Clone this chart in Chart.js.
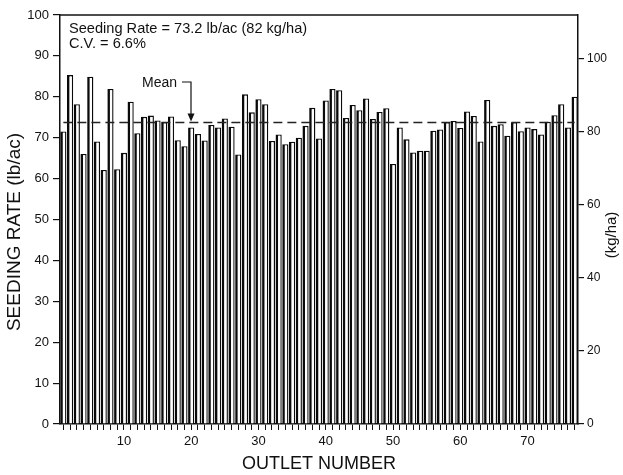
<!DOCTYPE html>
<html lang="en">
<head>
<meta charset="UTF-8">
<title>Seeding rate by outlet</title>
<script src="https://cdn.jsdelivr.net/npm/chart.js"></script>
<style>
  html, body { margin: 0; padding: 0; background: #fff; }
  #wrap { width: 623px; height: 475px; }
</style>
</head>
<body>
<div id="wrap"><canvas id="myChart" width="623" height="475"></canvas></div>
<script>
  // outlet numbers along the bottom
  const outlets = [
    1, 2, 3, 4, 5, 6, 7, 8, 9, 10, 11, 12, 13, 14, 15, 16, 17, 18, 19, 20,
    21, 22, 23, 24, 25, 26, 27, 28, 29, 30, 31, 32, 33, 34, 35, 36, 37, 38, 39, 40,
    41, 42, 43, 44, 45, 46, 47, 48, 49, 50, 51, 52, 53, 54, 55, 56, 57, 58, 59, 60,
    61, 62, 63, 64, 65, 66, 67, 68, 69, 70, 71, 72, 73, 74, 75, 76, 77
  ];

  // seeding rate per outlet, lb/ac
  const seedingRate = [
    71.5, 85.3, 78.2, 66.0, 84.9, 69.1, 62.1, 81.9, 62.3, 66.3,
    78.8, 71.1, 75.1, 75.4, 74.2, 73.8, 75.2, 69.4, 67.9, 72.5,
    70.9, 69.3, 73.1, 72.5, 74.7, 72.7, 65.9, 80.6, 76.2, 79.4,
    78.2, 69.2, 70.8, 68.4, 69.0, 70.0, 72.9, 77.3, 69.8, 79.1,
    81.9, 81.6, 74.8, 78.0, 76.7, 79.6, 74.6, 76.3, 77.2, 63.6,
    72.5, 69.6, 66.4, 66.8, 66.8, 71.7, 72.0, 73.8, 74.1, 72.4,
    76.4, 75.3, 69.1, 79.2, 72.9, 73.3, 70.5, 73.8, 71.6, 72.5,
    72.1, 70.8, 73.9, 75.5, 78.2, 72.5, 80.0
  ];

  const meanRate = 73.7;          // dashed "Mean" line as drawn
  const kgPerLb = 1.12085;        // lb/ac -> kg/ha
  const lbTicks = [0, 10, 20, 30, 40, 50, 60, 70, 80, 90, 100];
  const kgTicks = [0, 20, 40, 60, 80, 100];
  const xLabels = [10, 20, 30, 40, 50, 60, 70];
  const noteLines = ['Seeding Rate = 73.2 lb/ac (82 kg/ha)', 'C.V. = 6.6%'];

  const FONT = "'Liberation Sans', Arial, Helvetica, sans-serif";
  Chart.defaults.font.family = FONT;
  Chart.defaults.color = '#111';

  function vertText(ctx, text, x, y, size) {
    ctx.save();
    ctx.translate(x, y);
    ctx.rotate(-Math.PI / 2);
    ctx.textAlign = 'center';
    ctx.textBaseline = 'middle';
    ctx.font = size + 'px ' + FONT;
    ctx.fillText(text, 0, 0);
    ctx.restore();
  }

  // frame top, notes, mean arrow and the axis titles
  const extras = {
    id: 'extras',
    afterDraw(chart) {
      const ctx = chart.ctx;
      const a = chart.chartArea;
      const y = chart.scales.y;
      ctx.save();
      ctx.strokeStyle = '#111';
      ctx.lineWidth = 1.5;
      ctx.beginPath();
      ctx.moveTo(a.left, a.top);
      ctx.lineTo(a.right, a.top);
      ctx.stroke();

      ctx.fillStyle = '#111';
      ctx.font = '14.6px ' + FONT;
      ctx.textBaseline = 'alphabetic';
      ctx.textAlign = 'left';
      ctx.fillText(noteLines[0], a.left + 9, a.top + 18);
      ctx.fillText(noteLines[1], a.left + 9, a.top + 33);

      // Mean label + arrow
      ctx.font = '14px ' + FONT;
      ctx.fillText('Mean', 142, 87);
      const ax = 191;
      const meanY = y.getPixelForValue(meanRate);
      ctx.lineWidth = 1.2;
      ctx.beginPath();
      ctx.moveTo(182, 82);
      ctx.lineTo(ax, 82);
      ctx.lineTo(ax, meanY - 7);
      ctx.stroke();
      ctx.beginPath();
      ctx.moveTo(ax - 3.5, meanY - 9);
      ctx.lineTo(ax + 3.5, meanY - 9);
      ctx.lineTo(ax, meanY - 1);
      ctx.closePath();
      ctx.fill();

      vertText(ctx, 'SEEDING RATE (lb/ac)', 15, 232, 19);
      vertText(ctx, '(kg/ha)', 612, 235, 15);
      ctx.restore();
    }
  };

  new Chart(document.getElementById('myChart'), {
    data: {
      labels: outlets,
      datasets: [{
        type: 'line',
        data: outlets.map(() => meanRate),
        borderColor: '#222',
        borderWidth: 1.5,
        borderDash: [9, 5],
        pointRadius: 0,
        yAxisID: 'y',
        order: 1
      }, {
        type: 'bar',
        data: seedingRate,
        backgroundColor: '#fff',
        borderColor: '#0a0a0a',
        borderWidth: { top: 1.3, left: 2.6, right: 1.4, bottom: 0 },
        borderSkipped: 'start',
        barPercentage: 0.92,
        categoryPercentage: 1,
        yAxisID: 'y',
        order: 2
      }]
    },
    options: {
      responsive: false,
      animation: false,
      layout: { padding: { top: 15, left: 0, right: 0, bottom: 0 } },
      plugins: { legend: { display: false }, tooltip: { enabled: false } },
      scales: {
        x: {
          type: 'category',
          offset: true,
          grid: { display: true, drawOnChartArea: false, offset: false, tickLength: 6, color: '#111', lineWidth: 1 },
          border: { display: true, color: '#111', width: 1.5 },
          ticks: {
            autoSkip: false,
            maxRotation: 0,
            padding: 4,
            font: { size: 13 },
            callback: (v, i) => xLabels.includes(outlets[i]) ? String(outlets[i]) : ''
          },
          title: { display: true, text: 'OUTLET NUMBER', font: { size: 18 }, padding: { top: 0, bottom: 0 } },
          afterFit: s => { s.height = 51; }
        },
        y: {
          position: 'left',
          min: 0,
          max: 100,
          grid: { display: true, drawOnChartArea: false, tickLength: 7, color: '#111', lineWidth: 1.2 },
          border: { display: true, color: '#111', width: 1.5 },
          ticks: { padding: 4, font: { size: 13 } },
          afterBuildTicks: s => { s.ticks = lbTicks.map(v => ({ value: v })); },
          afterFit: s => { s.width = 60; }
        },
        y2: {
          position: 'right',
          min: 0,
          max: 100 * kgPerLb,
          grid: { display: true, drawOnChartArea: false, tickLength: 6, color: '#111', lineWidth: 1.2 },
          border: { display: true, color: '#111', width: 1.5 },
          ticks: { padding: 3, font: { size: 12 } },
          afterBuildTicks: s => { s.ticks = kgTicks.map(v => ({ value: v })); },
          afterFit: s => { s.width = 45; }
        }
      }
    },
    plugins: [extras]
  });
</script>
</body>
</html>
